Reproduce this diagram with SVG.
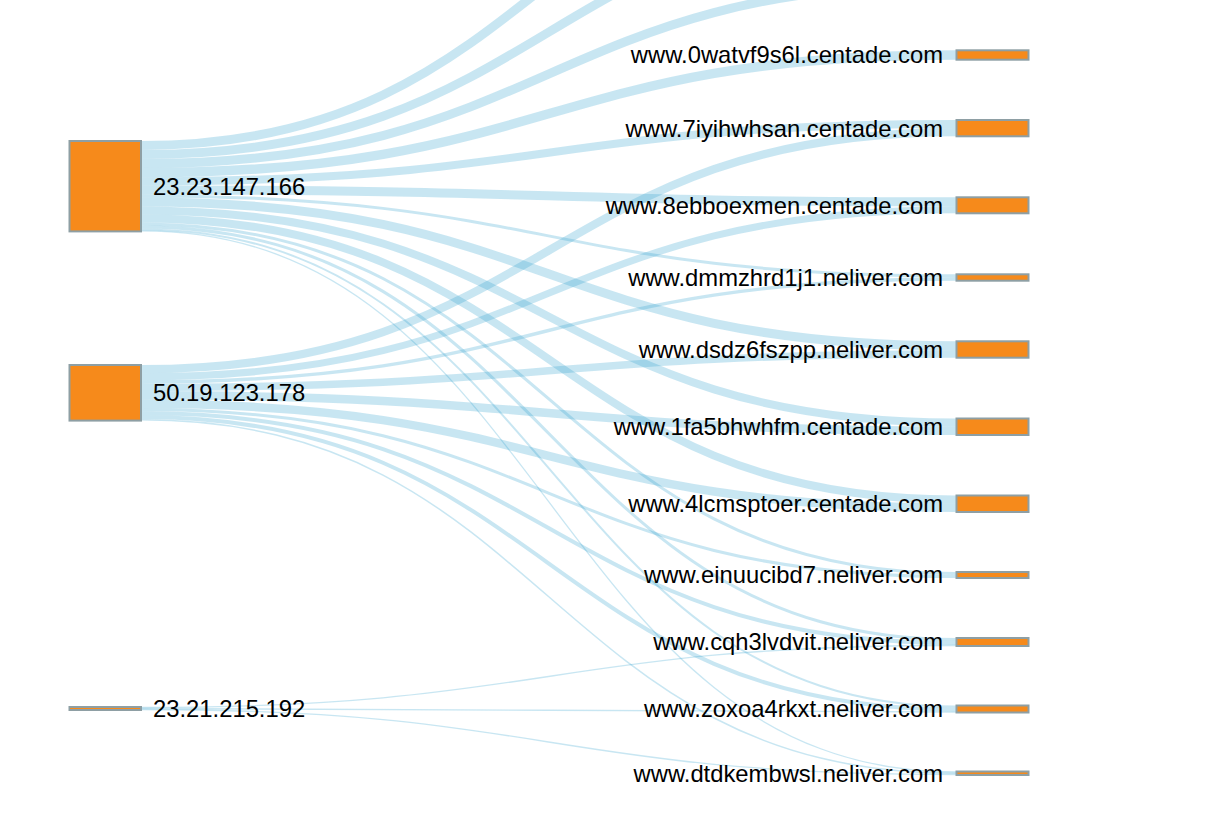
<svg xmlns="http://www.w3.org/2000/svg" width="1221" height="816" viewBox="0 0 1221 816">
<style>
.link{fill:none;stroke:#239bcb;stroke-opacity:0.25}
.node rect{fill:#f68a1b;stroke:#8e9fa4;stroke-width:2}
.node text{font-family:"Liberation Sans",Arial,Helvetica,sans-serif;font-size:23.8px;fill:#000}
.src text{text-anchor:start}
.dst text{text-anchor:end}
</style>
<rect width="1221" height="816" fill="#fff"/>
<g id="links">
<path class="link" stroke-width="9" d="M141,145.5C548.5,145.5 548.5,-178 956,-178"/>
<path class="link" stroke-width="9" d="M141,154.5C548.5,154.5 548.5,-90 956,-90"/>
<path class="link" stroke-width="9" d="M141,163.5C548.5,163.5 548.5,-15.4 956,-15.4"/>
<path class="link" stroke-width="9.4" d="M141,172.7C548.5,172.7 548.5,55 956,55"/>
<path class="link" stroke-width="8" d="M141,181.4C548.5,181.4 548.5,124 956,124"/>
<path class="link" stroke-width="9" d="M141,189.9C548.5,189.9 548.5,201.8 956,201.8"/>
<path class="link" stroke-width="3" d="M141,195.9C548.5,195.9 548.5,275.8 956,275.8"/>
<path class="link" stroke-width="9" d="M141,201.9C548.5,201.9 548.5,345.8 956,345.8"/>
<path class="link" stroke-width="8" d="M141,210.4C548.5,210.4 548.5,422.5 956,422.5"/>
<path class="link" stroke-width="8" d="M141,218.4C548.5,218.4 548.5,499.5 956,499.5"/>
<path class="link" stroke-width="3" d="M141,223.9C548.5,223.9 548.5,573.5 956,573.5"/>
<path class="link" stroke-width="3" d="M141,226.9C548.5,226.9 548.5,639.5 956,639.5"/>
<path class="link" stroke-width="2" d="M141,229.4C548.5,229.4 548.5,706.5 956,706.5"/>
<path class="link" stroke-width="1.3" d="M141,230.9C548.5,230.9 548.5,772 956,772"/>
<path class="link" stroke-width="8.3" d="M141,369.15C548.5,369.15 548.5,132.15 956,132.15"/>
<path class="link" stroke-width="7" d="M141,376.8C548.5,376.8 548.5,209.8 956,209.8"/>
<path class="link" stroke-width="3.4" d="M141,382C548.5,382 548.5,279 956,279"/>
<path class="link" stroke-width="7.4" d="M141,387.4C548.5,387.4 548.5,354 956,354"/>
<path class="link" stroke-width="8.5" d="M141,395.35C548.5,395.35 548.5,430.75 956,430.75"/>
<path class="link" stroke-width="8.5" d="M141,403.85C548.5,403.85 548.5,507.75 956,507.75"/>
<path class="link" stroke-width="3" d="M141,409.6C548.5,409.6 548.5,576.5 956,576.5"/>
<path class="link" stroke-width="4" d="M141,413.1C548.5,413.1 548.5,643 956,643"/>
<path class="link" stroke-width="4" d="M141,417.1C548.5,417.1 548.5,709.5 956,709.5"/>
<path class="link" stroke-width="1.5" d="M141,419.85C548.5,419.85 548.5,773.25 956,773.25"/>
<path class="link" stroke-width="1.3" d="M141,707.5C548.5,707.5 548.5,645.5 956,645.5"/>
<path class="link" stroke-width="1.3" d="M141,708.5C548.5,708.5 548.5,712 956,712"/>
<path class="link" stroke-width="1.3" d="M141,709.5C548.5,709.5 548.5,774.5 956,774.5"/>
</g>
<g id="node-23-23-147-166" class="node src"><rect x="69.5" y="141" width="71.5" height="90.4"/><text x="153" y="194.6">23.23.147.166</text></g>
<g id="node-50-19-123-178" class="node src"><rect x="69.5" y="365" width="71.5" height="55.6"/><text x="153" y="401.2">50.19.123.178</text></g>
<g id="node-23-21-215-192" class="node src"><rect x="69.5" y="707" width="71.5" height="3"/><text x="153" y="716.9">23.21.215.192</text></g>
<g id="node-0watvf9s6l" class="node dst"><rect x="956.5" y="50.3" width="72" height="9.4"/><text x="943" y="63.4">www.0watvf9s6l.centade.com</text></g>
<g id="node-7iyihwhsan" class="node dst"><rect x="956.5" y="120" width="72" height="16.3"/><text x="943" y="136.6">www.7iyihwhsan.centade.com</text></g>
<g id="node-8ebboexmen" class="node dst"><rect x="956.5" y="197.3" width="72" height="16"/><text x="943" y="213.7">www.8ebboexmen.centade.com</text></g>
<g id="node-dmmzhrd1j1" class="node dst"><rect x="956.5" y="274.3" width="72" height="6.4"/><text x="943" y="285.9">www.dmmzhrd1j1.neliver.com</text></g>
<g id="node-dsdz6fszpp" class="node dst"><rect x="956.5" y="341.3" width="72" height="16.4"/><text x="943" y="357.9">www.dsdz6fszpp.neliver.com</text></g>
<g id="node-1fa5bhwhfm" class="node dst"><rect x="956.5" y="418.5" width="72" height="16.5"/><text x="943" y="435.15">www.1fa5bhwhfm.centade.com</text></g>
<g id="node-4lcmsptoer" class="node dst"><rect x="956.5" y="495.5" width="72" height="16.5"/><text x="943" y="512.15">www.4lcmsptoer.centade.com</text></g>
<g id="node-einuucibd7" class="node dst"><rect x="956.5" y="572" width="72" height="6"/><text x="943" y="583.4">www.einuucibd7.neliver.com</text></g>
<g id="node-cqh3lvdvit" class="node dst"><rect x="956.5" y="638" width="72" height="8"/><text x="943" y="650.4">www.cqh3lvdvit.neliver.com</text></g>
<g id="node-zoxoa4rkxt" class="node dst"><rect x="956.5" y="705.5" width="72" height="7"/><text x="943" y="717.4">www.zoxoa4rkxt.neliver.com</text></g>
<g id="node-dtdkembwsl" class="node dst"><rect x="956.5" y="771.5" width="72" height="3.5"/><text x="943" y="781.65">www.dtdkembwsl.neliver.com</text></g>
</svg>
